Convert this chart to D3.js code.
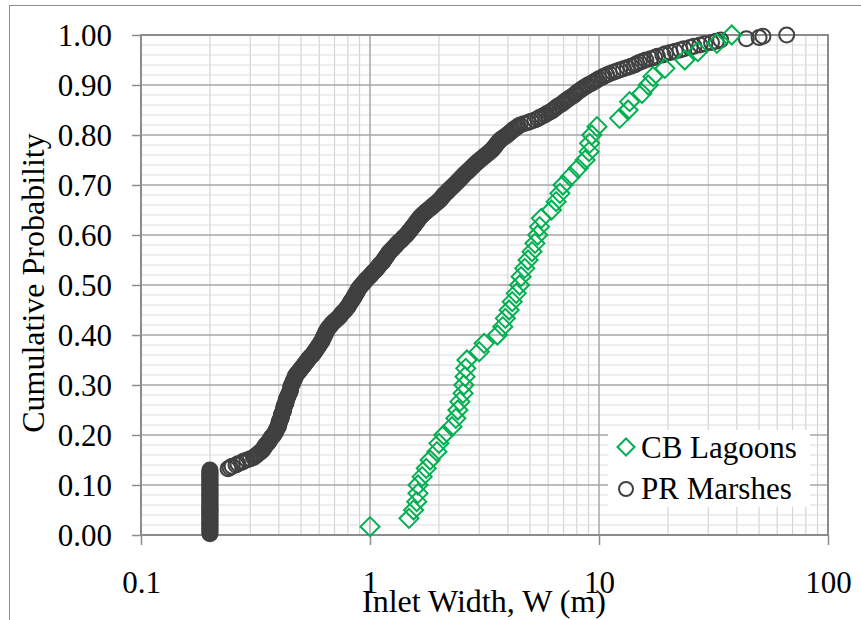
<!DOCTYPE html>
<html>
<head>
<meta charset="utf-8">
<script src="https://cdn.jsdelivr.net/npm/d3@7"></script>
<style>
  body { margin: 0; background: #fff; }
  text { font-family: "Liberation Serif", "Times New Roman", serif; fill: #000; }
</style>
</head>
<body>
<script>
// inlet widths (m), sorted; cumulative probability = rank / n
var cbWidths = [1.0, 1.48, 1.55, 1.6, 1.62, 1.62, 1.69, 1.76, 1.83, 1.96,
  2.0, 2.1, 2.28, 2.37, 2.42, 2.47, 2.55, 2.57, 2.6, 2.62,
  2.65, 3.0, 3.15, 3.6, 3.8, 3.9, 4.05, 4.18, 4.35, 4.5,
  4.57, 4.74, 4.9, 5.1, 5.25, 5.4, 5.5, 5.6, 6.2, 6.5,
  6.75, 6.96, 7.5, 8.1, 8.7, 9.05, 9.1, 9.3, 9.8, 12.3,
  13.4, 13.6, 15.4, 16.4, 17.2, 19.4, 23.7, 27, 32.7, 38];

var prWidths = [0.2, 0.2, 0.2, 0.2, 0.2, 0.2, 0.2, 0.2, 0.2, 0.2,
  0.2, 0.2, 0.2, 0.2, 0.2, 0.2, 0.2, 0.2, 0.2, 0.2,
  0.2, 0.2, 0.2, 0.2, 0.2, 0.2, 0.2, 0.2, 0.2, 0.2,
  0.2, 0.2, 0.2, 0.2, 0.2, 0.2, 0.2, 0.2, 0.2, 0.2,
  0.2, 0.2, 0.2, 0.2, 0.2, 0.2, 0.2, 0.2, 0.2, 0.2,
  0.2, 0.2, 0.24, 0.245, 0.25, 0.26, 0.265, 0.275, 0.28, 0.29,
  0.30, 0.31, 0.315, 0.32, 0.325, 0.33, 0.335, 0.34, 0.342, 0.345,
  0.348, 0.35, 0.355, 0.36, 0.362, 0.365, 0.368, 0.37, 0.375, 0.38,
  0.382, 0.385, 0.388, 0.39, 0.392, 0.395, 0.398, 0.40, 0.40, 0.40,
  0.402, 0.405, 0.408, 0.41, 0.41, 0.41, 0.412, 0.415, 0.418, 0.42,
  0.42, 0.42, 0.422, 0.425, 0.428, 0.43, 0.43, 0.43, 0.432, 0.435,
  0.438, 0.44, 0.442, 0.445, 0.448, 0.45, 0.45, 0.45, 0.452, 0.455,
  0.458, 0.46, 0.462, 0.465, 0.468, 0.47, 0.472, 0.475, 0.48, 0.485,
  0.49, 0.495, 0.50, 0.505, 0.51, 0.515, 0.52, 0.525, 0.53, 0.535,
  0.54, 0.545, 0.552, 0.56, 0.565, 0.57, 0.575, 0.58, 0.585, 0.59,
  0.595, 0.60, 0.605, 0.61, 0.615, 0.62, 0.622, 0.625, 0.63, 0.635,
  0.638, 0.64, 0.645, 0.65, 0.655, 0.66, 0.668, 0.675, 0.682, 0.69,
  0.70, 0.71, 0.72, 0.73, 0.738, 0.745, 0.752, 0.76, 0.77, 0.78,
  0.788, 0.795, 0.802, 0.81, 0.815, 0.82, 0.828, 0.835, 0.842, 0.85,
  0.855, 0.86, 0.868, 0.875, 0.88, 0.885, 0.892, 0.90, 0.91, 0.92,
  0.93, 0.94, 0.95, 0.96, 0.972, 0.985, 0.997, 1.01, 1.02, 1.03,
  1.045, 1.06, 1.07, 1.08, 1.09, 1.10, 1.115, 1.13, 1.14, 1.15,
  1.16, 1.17, 1.18, 1.19, 1.20, 1.21, 1.225, 1.24, 1.255, 1.27,
  1.285, 1.30, 1.315, 1.33, 1.35, 1.37, 1.385, 1.40, 1.42, 1.44,
  1.455, 1.47, 1.485, 1.50, 1.515, 1.53, 1.545, 1.56, 1.575, 1.59,
  1.605, 1.62, 1.635, 1.65, 1.67, 1.69, 1.715, 1.74, 1.765, 1.79,
  1.82, 1.85, 1.875, 1.90, 1.93, 1.96, 1.99, 2.02, 2.04, 2.06,
  2.08, 2.10, 2.13, 2.16, 2.185, 2.21, 2.24, 2.27, 2.30, 2.33,
  2.36, 2.39, 2.42, 2.45, 2.48, 2.51, 2.54, 2.57, 2.60, 2.64,
  2.675, 2.71, 2.745, 2.78, 2.815, 2.85, 2.89, 2.93, 2.975, 3.02,
  3.065, 3.11, 3.16, 3.21, 3.26, 3.31, 3.36, 3.41, 3.445, 3.48,
  3.515, 3.55, 3.585, 3.62, 3.66, 3.70, 3.76, 3.83, 3.90, 3.97,
  4.03, 4.09, 4.15, 4.21, 4.28, 4.36, 4.44, 4.52, 4.7, 4.9,
  5.05, 5.25, 5.4, 5.5, 5.65, 5.8, 5.9, 6.05, 6.2, 6.3,
  6.4, 6.5, 6.6, 6.75, 6.9, 7.0, 7.1, 7.24, 7.35, 7.5,
  7.65, 7.8, 7.9, 8.0, 8.15, 8.3, 8.45, 8.6, 8.8, 8.95,
  9.2, 9.4, 9.6, 9.8, 10.0, 10.3, 10.5, 10.8, 11.1, 11.5,
  11.9, 12.3, 12.8, 13.3, 13.8, 14.3, 14.6, 15.0, 15.5, 16.0,
  16.8, 17.5, 18.0, 19.0, 19.5, 20.5, 21.5, 22.6, 23.5, 25.0,
  26.0, 27.6, 29.0, 31.0, 32.5, 34.0, 44.0, 50.0, 52.0, 66.0];

var xTicks = [0.1, 1, 10, 100];
var yTicks = [0, 0.1, 0.2, 0.3, 0.4, 0.5, 0.6, 0.7, 0.8, 0.9, 1.0];
var seriesNames = ["CB Lagoons", "PR Marshes"];

var W = 861, H = 620;
var pLeft = 141, pRight = 828, pTop = 35, pBottom = 535;

var svg = d3.select("body").append("svg").attr("width", W).attr("height", H);

// chart frame
svg.append("rect").attr("x", 9.5).attr("y", 5.5).attr("width", 870).attr("height", 640)
  .attr("fill", "none").attr("stroke", "#8c8c8c").attr("stroke-width", 1);

var x = d3.scaleLog().domain([0.1, 100]).range([pLeft, pRight]);
var y = d3.scaleLinear().domain([0, 1]).range([pBottom, pTop]);

// minor grid
var minorX = [];
[0.1, 1, 10].forEach(function (d) {
  for (var k = 2; k <= 9; k++) minorX.push(d * k);
});
var minorY = d3.range(0, 51).map(function (i) { return i / 50; })
  .filter(function (d, i) { return i % 5 != 0; });

svg.append("g").selectAll("line").data(minorX).enter().append("line")
  .attr("x1", function (d) { return x(d); }).attr("x2", function (d) { return x(d); })
  .attr("y1", pTop).attr("y2", pBottom)
  .attr("stroke", "#d4d4d4").attr("stroke-width", 1.2);
svg.append("g").selectAll("line").data(minorY).enter().append("line")
  .attr("x1", pLeft).attr("x2", pRight)
  .attr("y1", function (d) { return y(d); }).attr("y2", function (d) { return y(d); })
  .attr("stroke", "#dcdcdc").attr("stroke-width", 1.2);

// major grid
svg.append("g").selectAll("line").data(xTicks).enter().append("line")
  .attr("x1", function (d) { return x(d); }).attr("x2", function (d) { return x(d); })
  .attr("y1", pTop).attr("y2", pBottom)
  .attr("stroke", "#a6a6a6").attr("stroke-width", 1.5);
svg.append("g").selectAll("line").data(yTicks).enter().append("line")
  .attr("x1", pLeft).attr("x2", pRight)
  .attr("y1", function (d) { return y(d); }).attr("y2", function (d) { return y(d); })
  .attr("stroke", "#a6a6a6").attr("stroke-width", 1.5);

// plot border
svg.append("rect").attr("x", pLeft).attr("y", pTop)
  .attr("width", pRight - pLeft).attr("height", pBottom - pTop)
  .attr("fill", "none").attr("stroke", "#8c8c8c").attr("stroke-width", 2);

// axes
var yAxis = d3.axisLeft(y).tickValues(yTicks).tickSize(9).tickPadding(20)
  .tickFormat(d3.format(".2f"));
var gy = svg.append("g").attr("transform", "translate(" + pLeft + ",0)").call(yAxis);
gy.select(".domain").remove();
gy.selectAll(".tick line").attr("stroke", "#8c8c8c").attr("stroke-width", 1.5);
gy.selectAll(".tick text").style("font-family", "Liberation Serif").style("font-size", "31px")
  .attr("dy", "0.34em");

var xAxis = d3.axisBottom(x).tickValues(xTicks).tickSize(10).tickPadding(26)
  .tickFormat(function (d) { return String(d); });
var gx = svg.append("g").attr("transform", "translate(0," + pBottom + ")").call(xAxis);
gx.select(".domain").remove();
gx.selectAll(".tick line").attr("stroke", "#8c8c8c").attr("stroke-width", 1.5);
gx.selectAll(".tick text").style("font-family", "Liberation Serif").style("font-size", "31px");

// axis titles
svg.append("text").attr("x", 484).attr("y", 612).attr("text-anchor", "middle")
  .attr("font-size", 32).text("Inlet Width, W (m)");
svg.append("text").attr("transform", "translate(44,283) rotate(-90)")
  .attr("text-anchor", "middle").attr("font-size", 32).text("Cumulative Probability");

// PR Marshes
var nPr = prWidths.length;
svg.append("g").selectAll("circle").data(prWidths).enter().append("circle")
  .attr("cx", function (d) { return x(d); })
  .attr("cy", function (d, i) { return y((i + 1) / nPr); })
  .attr("r", 7.5)
  .attr("fill", "none").attr("stroke", "#404040").attr("stroke-width", 2);

// CB Lagoons
var nCb = cbWidths.length;
svg.append("g").selectAll("path").data(cbWidths).enter().append("path")
  .attr("d", "M0,-9.5L9.5,0L0,9.5L-9.5,0Z")
  .attr("transform", function (d, i) {
    return "translate(" + x(d) + "," + y((i + 1) / nCb) + ")";
  })
  .attr("fill", "none").attr("stroke", "#00b050").attr("stroke-width", 2);

// legend
var lg = svg.append("g");
lg.append("rect").attr("x", 608).attr("y", 430).attr("width", 202).attr("height", 77)
  .attr("fill", "#fff");
lg.append("path").attr("d", "M0,-8.5L8.5,0L0,8.5L-8.5,0Z")
  .attr("transform", "translate(626,447)")
  .attr("fill", "none").attr("stroke", "#00b050").attr("stroke-width", 2);
lg.append("circle").attr("cx", 626).attr("cy", 489).attr("r", 7)
  .attr("fill", "none").attr("stroke", "#404040").attr("stroke-width", 2);
lg.selectAll("text").data(seriesNames).enter().append("text")
  .attr("x", 641).attr("y", function (d, i) { return 458 + i * 41; })
  .attr("font-size", 31).text(function (d) { return d; });
</script>
</body>
</html>
